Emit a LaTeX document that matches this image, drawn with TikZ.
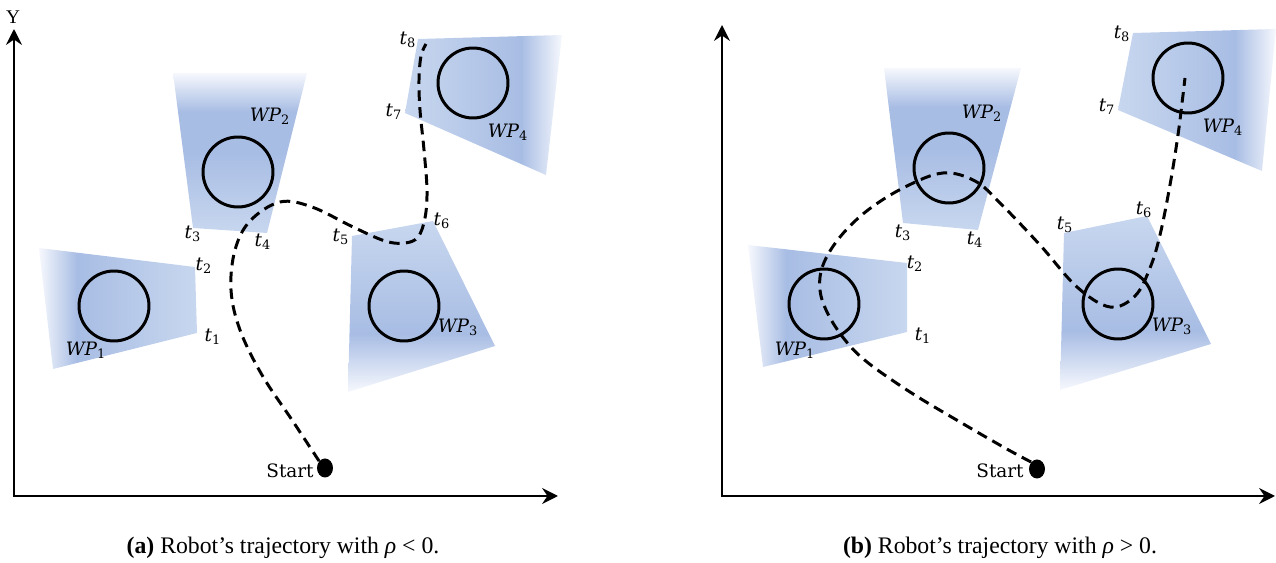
\documentclass[tikz,border=0pt]{standalone}
\usepackage{fontspec}
\setmainfont{Liberation Serif}
\newfontfamily\labfont{DejaVu Serif}
\usetikzlibrary{arrows.meta,shapes.geometric}
\definecolor{wpblue}{RGB}{168,189,228}
\definecolor{wplight}{RGB}{200,215,239}
\definecolor{wpwhite}{RGB}{246,248,253}
\pgfdeclarehorizontalshading{shLR}{100bp}{color(0bp)=(wpwhite); color(25bp)=(wpwhite); color(37bp)=(wpblue); color(75bp)=(wplight); color(100bp)=(wplight)}
\pgfdeclarehorizontalshading{shRL}{100bp}{color(0bp)=(wplight); color(25bp)=(wplight); color(62bp)=(wpblue); color(75bp)=(wpwhite); color(100bp)=(wpwhite)}
\pgfdeclareverticalshading{shTop}{100bp}{color(0bp)=(wplight); color(25bp)=(wplight); color(50bp)=(wpblue); color(63bp)=(wpblue); color(75bp)=(wpwhite); color(100bp)=(wpwhite)}
\pgfdeclareverticalshading{shBot}{100bp}{color(0bp)=(wpwhite); color(25bp)=(wpwhite); color(42bp)=(wpblue); color(75bp)=(wplight); color(100bp)=(wplight)}
\newcommand{\lbl}[2]{{\itshape #1}\textsubscript{#2}}
\tikzset{
  axline/.style={line width=1.7pt, line join=miter, {Stealth[length=9pt,width=9pt,inset=3pt]}-{Stealth[length=9pt,width=9pt,inset=3pt]}},
  wpcirc/.style={circle, draw, line width=1.7pt, minimum size=1.4cm, inner sep=0pt},
  trajline/.style={line width=1.7pt, dash pattern=on 6pt off 3.6pt},
  startdot/.style={ellipse, fill=black, minimum width=0.32cm, minimum height=0.38cm, inner sep=0pt},
  labtext/.style={font=\labfont\fontsize{10.5}{12}\selectfont, inner sep=0pt},
  ytext/.style={font=\fontsize{11}{13}\selectfont, inner sep=0pt},
  captext/.style={font=\fontsize{13.5}{16}\selectfont, inner sep=0pt}
}
\begin{document}
\begin{tikzpicture}[x=0.02cm,y=-0.02cm]
\useasboundingbox (0,0) rectangle (1276,563);
% ---------------- panel (a) ----------------
\shade[shading=shTop] (173,73) -- (307,73) -- (267,233) -- (193,228) -- cycle;
\shade[shading=shLR] (39,248) -- (195,267) -- (197,333) -- (53,369) -- cycle;
\shade[shading=shBot] (352,236) -- (433,221) -- (495,346) -- (348,392) -- cycle;
\shade[shading=shRL] (418,39) -- (562,35) -- (546,175) -- (405,113) -- cycle;
\node[wpcirc] (c2a) at (238,172) {};
\node[wpcirc] (c1a) at (114,306) {};
\node[wpcirc] (c3a) at (404,306) {};
\node[wpcirc] (c4a) at (473,83) {};
\coordinate (oA) at (14,496);
\coordinate (yA) at (14,29);
\coordinate (xA) at (558,496);
\draw[axline] (yA) -- (oA) -- (xA);
\node[ytext] (Ya) at (13,17) {Y};
\node[startdot] (startA) at (325,468) {};
\node[labtext, anchor=east] (startLa) at (314,471) {Start};
\draw[trajline] plot[smooth, tension=0.6] coordinates {(startA.north west) (292,420) (262,375) (240,330) (231,290) (235,250) (250,221) (280,202) (312,207) (353,227) (385,241) (405,243) (418,237) (425,218) (427,190) (424,150) (420,110) (419,80) (421,56) (426,44)};
\node[labtext] (wp2a) at (270,116) {\lbl{WP}{2}};
\node[labtext] (wp1a) at (86,350) {\lbl{WP}{1}};
\node[labtext] (wp3a) at (458,327) {\lbl{WP}{3}};
\node[labtext] (wp4a) at (508,132) {\lbl{WP}{4}};
\node[labtext] (t1a) at (213,337) {\lbl{t}{1}};
\node[labtext] (t2a) at (204,266) {\lbl{t}{2}};
\node[labtext] (t3a) at (193,234) {\lbl{t}{3}};
\node[labtext] (t4a) at (263,242) {\lbl{t}{4}};
\node[labtext] (t5a) at (341,237) {\lbl{t}{5}};
\node[labtext] (t6a) at (442,221) {\lbl{t}{6}};
\node[labtext] (t7a) at (394,112) {\lbl{t}{7}};
\node[labtext] (t8a) at (408,40) {\lbl{t}{8}};
\node[captext] (capa) at (283,548) {\textbf{(a)} Robot’s trajectory with \textit{ρ} < 0.};
% ---------------- panel (b) ----------------
\shade[shading=shTop] (884,68) -- (1021,68) -- (978,230) -- (903,223) -- cycle;
\shade[shading=shLR] (748,245) -- (907,263) -- (907,332) -- (763,367) -- cycle;
\shade[shading=shBot] (1064,233) -- (1147,216) -- (1211,344) -- (1060,390) -- cycle;
\shade[shading=shRL] (1133,33) -- (1276,29) -- (1262,171) -- (1118,110) -- cycle;
\node[wpcirc] (c2b) at (949,168) {};
\node[wpcirc] (c1b) at (824,304) {};
\node[wpcirc] (c3b) at (1118,304) {};
\node[wpcirc] (c4b) at (1188,78) {};
\coordinate (oB) at (722,496);
\coordinate (yB) at (722,25);
\coordinate (xB) at (1275,496);
\draw[axline] (yB) -- (oB) -- (xB);
\node[startdot] (startB) at (1037,469) {};
\node[labtext, anchor=east] (startLb) at (1024,471) {Start};
\draw[trajline] plot[smooth, tension=0.6] coordinates {(startB.north west) (1005,448) (960,422) (910,392) (867,362) (845,340) (828,314) (820,290) (823,265) (840,237) (868,210) (905,187) (943,173) (975,181) (1000,203) (1040,245) (1077,287) (1110,307) (1135,296) (1150,268) (1160,235) (1170,185) (1178,135) (1183,95) (1185,78)};
\node[labtext] (wp2b) at (982,113) {\lbl{WP}{2}};
\node[labtext] (wp1b) at (795,350) {\lbl{WP}{1}};
\node[labtext] (wp3b) at (1172,326) {\lbl{WP}{3}};
\node[labtext] (wp4b) at (1223,127) {\lbl{WP}{4}};
\node[labtext] (t1b) at (923,336) {\lbl{t}{1}};
\node[labtext] (t2b) at (915,264) {\lbl{t}{2}};
\node[labtext] (t3b) at (903,233) {\lbl{t}{3}};
\node[labtext] (t4b) at (975,240) {\lbl{t}{4}};
\node[labtext] (t5b) at (1065,225) {\lbl{t}{5}};
\node[labtext] (t6b) at (1144,210) {\lbl{t}{6}};
\node[labtext] (t7b) at (1107,107) {\lbl{t}{7}};
\node[labtext] (t8b) at (1122,34) {\lbl{t}{8}};
\node[captext] (capb) at (1000,548) {\textbf{(b)} Robot’s trajectory with \textit{ρ} > 0.};
\end{tikzpicture}
\end{document}
